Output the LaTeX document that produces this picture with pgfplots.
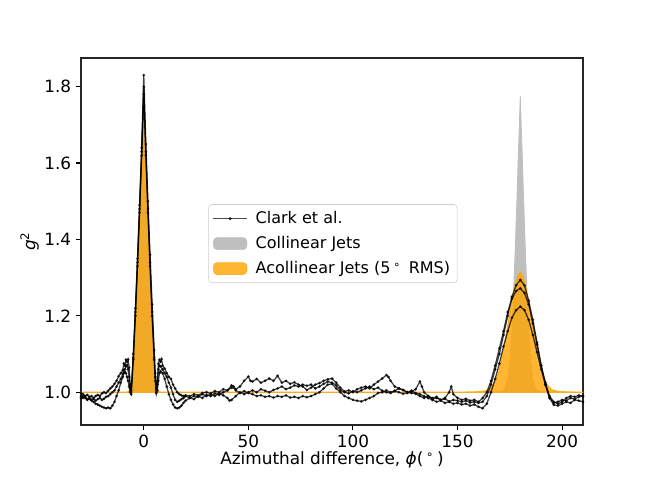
\documentclass[border=0pt]{standalone}
\usepackage{fontspec}
\setmainfont{DejaVu Sans}
\usepackage{pgfplots}
\pgfplotsset{compat=1.18}
\definecolor{cgray}{RGB}{191,191,191}
\definecolor{corange}{RGB}{255,165,0}
\begin{document}
\begin{tikzpicture}
\path[use as bounding box] (-57.6bp,-43.4bp) rectangle ++(460.8bp,345.6bp);
\begin{axis}[
  scale only axis, width=357bp, height=261bp,
  xmin=-30, xmax=210, ymin=0.9144, ymax=1.8751,
  xtick={0,50,100,150,200}, ytick={1.0,1.2,1.4,1.6,1.8},
  tick align=outside, major tick length=3.5bp, tick pos=left,
  axis line style={line width=0.8bp, black!85},
  every tick/.style={black, line width=0.8bp},
  /pgf/number format/assume math mode=true,
  ticklabel style={font=\fontsize{12bp}{14bp}\selectfont},
  xticklabel style={inner sep=0pt, yshift=-3.2bp},
  yticklabel style={/pgf/number format/.cd, fixed, fixed zerofill, precision=1},
  xlabel={Azimuthal difference, \textit{ϕ}(\,\textsuperscript{∘}\,)},
  ylabel={\textit{g}\textsuperscript{2}},
  label style={font=\fontsize{12bp}{14bp}\selectfont, inner sep=0pt},
  xlabel style={at={(axis description cs:0.5,-0.109)}, anchor=base},
  ylabel style={at={(axis description cs:-0.091,0.5)}, anchor=base},
  legend style={at={(0.2536,0.6014)}, anchor=north west, draw=black!20, rounded corners=2.5bp,
    font=\fontsize{11.4bp}{13bp}\selectfont, inner xsep=3bp, inner ysep=3bp, row sep=3.6bp},
  legend cell align=left,
]
\addlegendimage{legend image code/.code={\draw[black, draw opacity=0.7, line width=0.9bp] (0bp,0bp) -- (23.7bp,0bp); \fill[black, opacity=0.7] (11.85bp,0bp) circle (0.9bp); \path[draw=none, fill=none] (0bp,0bp) -- (28bp,0bp);}}
\addlegendentry{Clark et al.}
\addlegendimage{legend image code/.code={\fill[cgray] (0bp,-4.2bp) rectangle (23.7bp,4.2bp); \path[draw=none, fill=none] (0bp,0bp) -- (28bp,0bp);}}
\addlegendentry{Collinear Jets}
\addlegendimage{legend image code/.code={\fill[corange, opacity=0.8] (0bp,-4.2bp) rectangle (23.7bp,4.2bp); \path[draw=none, fill=none] (0bp,0bp) -- (28bp,0bp);}}
\addlegendentry{Acollinear Jets (5\,\textsuperscript{∘}\, RMS)}

% Collinear jets
\addplot[fill=cgray, draw=cgray, line width=0.6bp, forget plot] coordinates {
(-30,1.0) (-8,1.0) (-7,1.003) (-6,1.012) (-5.5,1.035) (-5,1.07) (-4,1.18) (-3,1.31) (-2,1.46) (-1,1.62) (-0.5,1.70) (0,1.778)
(0.5,1.70) (1,1.62) (2,1.46) (3,1.31) (4,1.18) (5,1.07) (5.5,1.035) (6,1.012) (7,1.003) (8,1.0)
(165,1.0) (170,1.001) (172,1.006) (173,1.015) (174,1.035) (175,1.08) (176,1.16) (176.5,1.22) (177,1.29) (177.5,1.36) (178,1.44) (178.5,1.52) (179,1.61) (179.5,1.69) (180,1.775)
(180.5,1.69) (181,1.61) (181.5,1.52) (182,1.44) (182.5,1.36) (183,1.29) (183.5,1.22) (184,1.16) (185,1.08) (186,1.035) (187,1.015) (188,1.006) (190,1.001) (195,1.0) (210,1.0)
} -- cycle;

% Acollinear jets
\addplot[fill=corange, draw=corange, fill opacity=0.8, draw opacity=0.8, line width=0.8bp, forget plot] coordinates {
(-30,1.0) (-8,1.0) (-7,1.003) (-6,1.012) (-5.5,1.035) (-5,1.07) (-4,1.18) (-3,1.31) (-2,1.46) (-1,1.62) (-0.5,1.70) (0,1.778)
(0.5,1.70) (1,1.62) (2,1.46) (3,1.31) (4,1.18) (5,1.07) (5.5,1.035) (6,1.012) (7,1.003) (8,1.0)
(130,1.0) (140,1.0003) (150,1.0002) (155,1.0006) (160,1.0015) (162,1.0025) (164,1.0048) (165,1.0075) (166,1.012) (167,1.019) (168,1.029) (169,1.042) (170,1.060)
(171,1.083) (172,1.110) (173,1.141) (174,1.174) (175,1.207) (176,1.238) (177,1.265) (178,1.288) (179,1.305) (180,1.315)
(181,1.305) (182,1.288) (183,1.265) (184,1.238) (185,1.207) (186,1.174) (187,1.141) (188,1.110) (189,1.083) (190,1.060)
(191,1.042) (192,1.029) (193,1.019) (194,1.012) (195,1.0075) (196,1.0048) (198,1.0025) (200,1.0015) (205,1.0006) (210,1.0002)
} -- cycle;

% Clark et al. A
\addplot[black, opacity=0.75, line width=0.9bp, mark=*, mark size=0.45bp, forget plot] coordinates {
(-30,0.998) (-29,0.995) (-28,0.99) (-27,0.993) (-26,0.988) (-25,0.99) (-24,0.985) (-23,0.99) (-22,0.993) (-21,0.99) (-20,0.997) (-19,1.0) (-18,0.998) (-17,1.004) (-16,1.01) (-15,1.015) (-14,1.022) (-13,1.03) (-12,1.042) (-11,1.05) (-10,1.058) (-9.5,1.075) (-9,1.07) (-8.5,1.085) (-8,1.08) (-7.5,1.086) (-7,1.065) (-6.5,1.02) (-6,1.005)
(-5,1.10) (-4,1.22) (-3,1.35) (-2,1.49) (-1,1.64) (0,1.83) (1,1.65) (2,1.50) (3,1.36) (4,1.23) (5,1.11) (5.5,1.05) (6,1.01) (6.5,1.03) (7,1.075) (7.5,1.085) (8,1.08) (8.5,1.087) (9,1.07) (10,1.062) (11,1.05) (12,1.04) (13,1.035) (14,1.02) (15,1.01) (16,1.0) (17,0.995) (18,0.992) (19,0.99) (20,0.992)
(22,0.99) (24,0.995) (26,0.992) (28,0.998) (30,1.0) (32,0.997) (34,1.003) (36,1.0) (38,1.008) (40,1.005) (42,1.012) (44,1.008) (46,1.015) (48,1.03) (50,1.041) (51,1.03) (52,1.028) (54,1.035) (56,1.025) (58,1.03) (60,1.036) (62,1.03) (64,1.043) (66,1.025) (68,1.03) (70,1.022) (72,1.026) (74,1.02) (76,1.015) (78,1.006) (80,1.012) (82,1.02) (84,1.024) (86,1.03) (88,1.034) (90,1.036) (92,1.025) (94,1.012) (96,1.002) (98,1.005) (100,1.0)
(102,1.008) (104,1.012) (106,1.015) (108,1.01) (110,1.02) (112,1.028) (114,1.036) (116,1.045) (117,1.04) (118,1.03) (120,1.015) (122,1.01) (124,1.006) (126,1.0) (128,0.998) (130,0.996) (132,0.99) (134,0.985) (136,0.99) (138,0.982) (140,0.985) (142,0.98) (144,0.983) (146,0.976) (148,0.98) (150,0.978) (152,0.975) (154,0.978) (156,0.973) (158,0.975) (160,0.972) (162,0.975)
(164,0.99) (166,1.02) (168,1.06) (170,1.10) (172,1.15) (174,1.20) (176,1.25) (178,1.28) (180,1.294) (182,1.28) (184,1.24) (186,1.19) (188,1.13) (190,1.07) (192,1.02) (194,0.985) (196,0.972) (198,0.975) (200,0.98) (202,0.978) (204,0.985) (206,0.982) (208,0.988) (210,0.99)
};

% Clark et al. B
\addplot[black, opacity=0.75, line width=0.9bp, mark=*, mark size=0.45bp, forget plot] coordinates {
(-30,0.99) (-29,0.985) (-28,0.988) (-27,0.982) (-26,0.985) (-25,0.98) (-24,0.983) (-23,0.978) (-22,0.982) (-21,0.985) (-20,0.98) (-19,0.983) (-18,0.988) (-17,0.99) (-16,0.995) (-15,1.0) (-14,1.005) (-13,1.015) (-12,1.025) (-11,1.035) (-10,1.048) (-9.5,1.058) (-9,1.06) (-8.5,1.068) (-8,1.072) (-7.5,1.06) (-7,1.04) (-6.5,1.01) (-6,1.0)
(-5,1.09) (-4,1.21) (-3,1.34) (-2,1.48) (-1,1.63) (0,1.80) (1,1.63) (2,1.48) (3,1.34) (4,1.21) (5,1.09) (5.5,1.04) (6,1.0) (6.5,1.02) (7,1.06) (7.5,1.07) (8,1.068) (9,1.06) (10,1.05) (11,1.04) (12,1.025) (13,1.012) (14,0.995) (15,0.98) (16,0.975) (17,0.978) (18,0.982) (19,0.985) (20,0.99)
(22,0.985) (24,0.99) (26,0.988) (28,0.995) (30,0.99) (32,0.995) (34,0.99) (36,0.998) (38,0.992) (40,0.985) (41,0.978) (42,0.98) (44,0.99) (46,1.0) (48,0.995) (50,1.0) (52,1.005) (54,1.0) (56,1.008) (58,1.004) (60,1.0) (62,1.006) (64,1.01) (66,1.015) (68,1.008) (70,1.012) (72,1.018) (74,1.015) (76,1.02) (78,1.017) (80,1.02) (82,1.01) (84,1.015) (86,1.022) (88,1.028) (90,1.025) (92,1.018) (94,1.005) (96,1.0) (98,0.997) (100,1.003)
(102,1.0) (104,1.005) (106,1.01) (108,1.015) (110,1.008) (112,1.012) (114,1.004) (116,1.0) (118,0.998) (120,1.003) (122,1.0) (124,0.996) (126,0.998) (128,1.002) (130,1.008) (132,1.028) (133,1.015) (134,1.0) (136,0.99) (138,0.985) (140,0.988) (142,0.98) (144,0.985) (146,1.0) (147,1.015) (148,0.995) (150,0.985) (152,0.98) (154,0.983) (156,0.978) (158,0.98) (160,0.975) (162,0.985)
(164,1.0) (166,1.03) (168,1.07) (170,1.115) (172,1.16) (174,1.21) (176,1.245) (178,1.265) (180,1.272) (182,1.26) (184,1.23) (186,1.18) (188,1.125) (190,1.07) (192,1.025) (194,0.99) (196,0.975) (198,0.97) (200,0.975) (202,0.985) (204,0.99) (206,0.988) (208,0.992) (210,0.99)
};

% Clark et al. C
\addplot[black, opacity=0.75, line width=0.9bp, mark=*, mark size=0.45bp, forget plot] coordinates {
(-30,0.985) (-29,0.99) (-28,0.985) (-27,0.98) (-26,0.983) (-25,0.978) (-24,0.975) (-23,0.97) (-22,0.968) (-21,0.965) (-20,0.962) (-19,0.96) (-18,0.958) (-17,0.96) (-16,0.958) (-15,0.965) (-14,0.975) (-13,0.99) (-12,1.005) (-11,1.025) (-10,1.04) (-9.5,1.05) (-9,1.053) (-8.5,1.05) (-8,1.04) (-7.5,1.03) (-7,1.015) (-6.5,1.0) (-6,0.995)
(-5,1.085) (-4,1.20) (-3,1.33) (-2,1.47) (-1,1.62) (0,1.78) (1,1.62) (2,1.47) (3,1.33) (4,1.20) (5,1.085) (5.5,1.03) (6,0.998) (6.5,1.005) (7,1.03) (7.5,1.05) (8,1.055) (9,1.05) (10,1.035) (11,1.015) (12,0.995) (13,0.98) (14,0.968) (15,0.96) (16,0.958) (17,0.96) (18,0.965) (19,0.972) (20,0.978)
(22,0.985) (24,0.982) (26,0.99) (28,0.985) (30,0.993) (32,0.99) (34,0.997) (36,0.993) (38,1.0) (40,1.005) (42,1.018) (43,1.015) (44,1.005) (46,0.998) (48,1.003) (50,0.998) (52,0.995) (54,0.99) (56,0.992) (58,0.988) (60,0.99) (62,0.986) (64,0.99) (66,0.988) (68,0.992) (70,0.986) (72,0.988) (74,0.985) (76,0.99) (78,0.987) (80,0.99) (82,0.995) (84,1.0) (86,1.01) (88,1.02) (90,1.022) (92,1.01) (94,1.0) (96,0.99) (98,0.985) (100,0.98)
(102,0.978) (104,0.976) (106,0.98) (108,0.985) (110,0.99) (112,0.998) (114,1.0) (116,1.005) (118,1.0) (120,1.004) (122,1.01) (124,1.006) (126,1.0) (128,1.004) (130,0.998) (132,0.995) (134,0.99) (136,0.985) (138,0.98) (140,0.975) (142,0.978) (144,0.972) (146,0.975) (148,0.97) (150,0.972) (152,0.968) (154,0.97) (156,0.965) (158,0.968) (160,0.962) (162,0.958)
(164,0.97) (166,1.0) (168,1.035) (170,1.075) (172,1.12) (174,1.16) (176,1.195) (178,1.215) (180,1.224) (182,1.215) (184,1.19) (186,1.15) (188,1.105) (190,1.06) (192,1.02) (194,0.985) (196,0.967) (198,0.965) (200,0.97) (202,0.975) (204,0.972) (206,0.98) (208,0.978) (210,0.975)
};
\end{axis}
\end{tikzpicture}
\end{document}
